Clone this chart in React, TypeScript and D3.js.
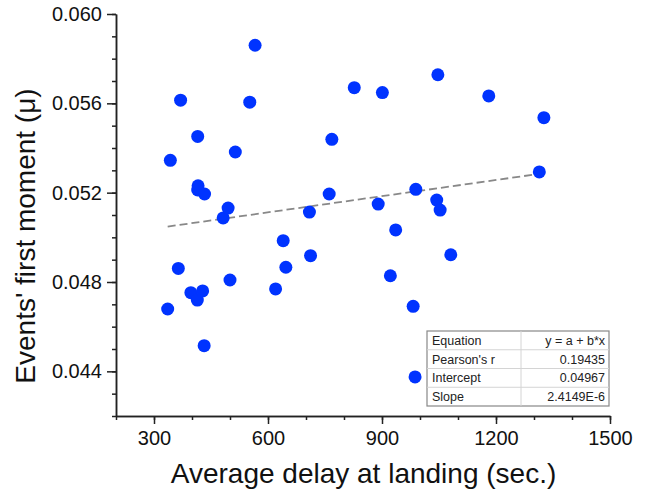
import React, { useRef, useEffect } from "react";
import * as d3 from "d3";

// average delay at landing (sec.)
const delays = [
  336, 343, 364, 370, 397, 414, 415, 416, 415, 433, 428, 432,
  482, 495, 500, 514, 552, 566, 620, 640, 647, 709, 712, 761,
  768, 827, 901, 890, 922, 936, 982, 987, 989, 1044, 1047, 1053,
  1081, 1181, 1314, 1326,
];
// events' first moment
const moments = [
  0.04679, 0.05345, 0.04861, 0.05614, 0.04752, 0.04719, 0.05452, 0.05231, 0.05212, 0.05194, 0.0476, 0.04515,
  0.05087, 0.05131, 0.04809, 0.05382, 0.05605, 0.0586, 0.04769, 0.04985, 0.04866, 0.05113, 0.04918, 0.05194,
  0.05439, 0.0567, 0.05648, 0.05149, 0.04828, 0.05033, 0.04691, 0.04375, 0.05215, 0.05167, 0.05728, 0.05122,
  0.04922, 0.05633, 0.05293, 0.05536,
];

const xTicks = [300, 600, 900, 1200, 1500];
const xMinorTicks = d3.range(200, 1501, 100);
const yTicks = [0.044, 0.048, 0.052, 0.056, 0.06];
const yMinorTicks = d3.range(42, 61, 1).map((v) => v / 1000);

const tableLabels = ["Equation", "Pearson's r", "Intercept", "Slope"];
const tableValues = ["y = a + b*x", "0.19435", "0.04967", "2.4149E-6"];
const intercept = 0.04967;
const slope = 2.4149e-6;

const width = 653;
const height = 495;
const marginLeft = 116;
const marginRight = 43;
const marginTop = 14;
const marginBottom = 79;

const App = () => {
  const svgRef = useRef<SVGSVGElement>(null);

  useEffect(() => {
    const svg = d3.select(svgRef.current);
    svg.selectAll("*").remove();

    const x = d3.scaleLinear().domain([200, 1500]).range([marginLeft, width - marginRight]);
    const y = d3.scaleLinear().domain([0.042, 0.06]).range([height - marginBottom, marginTop]);

    const axisColor = "#222";
    const font = "Arial, 'Liberation Sans', sans-serif";

    // x axis, minor then major
    svg.append("g")
      .attr("transform", `translate(0,${height - marginBottom})`)
      .call(d3.axisBottom(x).tickValues(xMinorTicks).tickSize(4).tickSizeOuter(0).tickFormat(() => ""));
    const gx = svg.append("g")
      .attr("transform", `translate(0,${height - marginBottom})`)
      .call(d3.axisBottom(x).tickValues(xTicks).tickSize(8).tickSizeOuter(0).tickPadding(7).tickFormat(d3.format("d")));
    gx.selectAll("text").attr("font-size", 20).attr("font-family", font).attr("fill", "#111");

    // y axis
    svg.append("g")
      .attr("transform", `translate(${marginLeft},0)`)
      .call(d3.axisLeft(y).tickValues(yMinorTicks).tickSize(4).tickSizeOuter(0).tickFormat(() => ""));
    const gy = svg.append("g")
      .attr("transform", `translate(${marginLeft},0)`)
      .call(d3.axisLeft(y).tickValues(yTicks).tickSize(9).tickSizeOuter(0).tickPadding(5).tickFormat(d3.format(".3f")));
    gy.selectAll("text").attr("font-size", 20).attr("font-family", font).attr("fill", "#111");

    svg.selectAll(".domain, .tick line").attr("stroke", axisColor).attr("stroke-width", 1.5);

    // fit line
    const [x0, x1] = d3.extent(delays) as [number, number];
    svg.append("line")
      .attr("x1", x(x0))
      .attr("y1", y(intercept + slope * x0))
      .attr("x2", x(x1))
      .attr("y2", y(intercept + slope * x1))
      .attr("stroke", "#888")
      .attr("stroke-width", 1.8)
      .attr("stroke-dasharray", "8,4");

    // points
    svg.append("g")
      .attr("fill", "#0033ff")
      .selectAll("circle")
      .data(delays)
      .join("circle")
      .attr("cx", (d) => x(d))
      .attr("cy", (d, i) => y(moments[i]))
      .attr("r", 6.5);

    // stats table
    const tx = 427, tw = 182, colX = 521, ty = 331, rowH = 18.75;
    const table = svg.append("g").attr("font-family", font).attr("font-size", 12.5).attr("fill", "#222");
    table.append("rect")
      .attr("x", tx).attr("y", ty).attr("width", tw).attr("height", rowH * tableLabels.length)
      .attr("fill", "white").attr("stroke", "#888").attr("stroke-width", 1.2);
    tableLabels.forEach((label, i) => {
      if (i > 0) {
        table.append("line")
          .attr("x1", tx).attr("x2", tx + tw)
          .attr("y1", ty + rowH * i).attr("y2", ty + rowH * i)
          .attr("stroke", "#d4d4d4");
      }
      table.append("text").attr("x", tx + 5).attr("y", ty + rowH * (i + 0.5)).attr("dy", "0.35em").text(label);
      table.append("text").attr("x", tx + tw - 4).attr("y", ty + rowH * (i + 0.5)).attr("dy", "0.35em")
        .attr("text-anchor", "end").text(tableValues[i]);
    });
    table.append("line")
      .attr("x1", colX).attr("x2", colX).attr("y1", ty).attr("y2", ty + rowH * tableLabels.length)
      .attr("stroke", "#d4d4d4");

    // axis titles
    svg.append("text")
      .attr("x", (marginLeft + width - marginRight) / 2 + 0.5)
      .attr("y", 483)
      .attr("text-anchor", "middle")
      .attr("font-family", font).attr("font-size", 28).attr("fill", "#111")
      .text("Average delay at landing (sec.)");
    svg.append("text")
      .attr("transform", `translate(35,236) rotate(-90)`)
      .attr("text-anchor", "middle")
      .attr("font-family", font).attr("font-size", 28).attr("fill", "#111")
      .text("Events' first moment (μ)");
  }, []);

  return (
    <svg
      ref={svgRef}
      width={width}
      height={height}
      style={{ position: "absolute", left: 0, top: 0, background: "white" }}
    />
  );
};

export default App;
